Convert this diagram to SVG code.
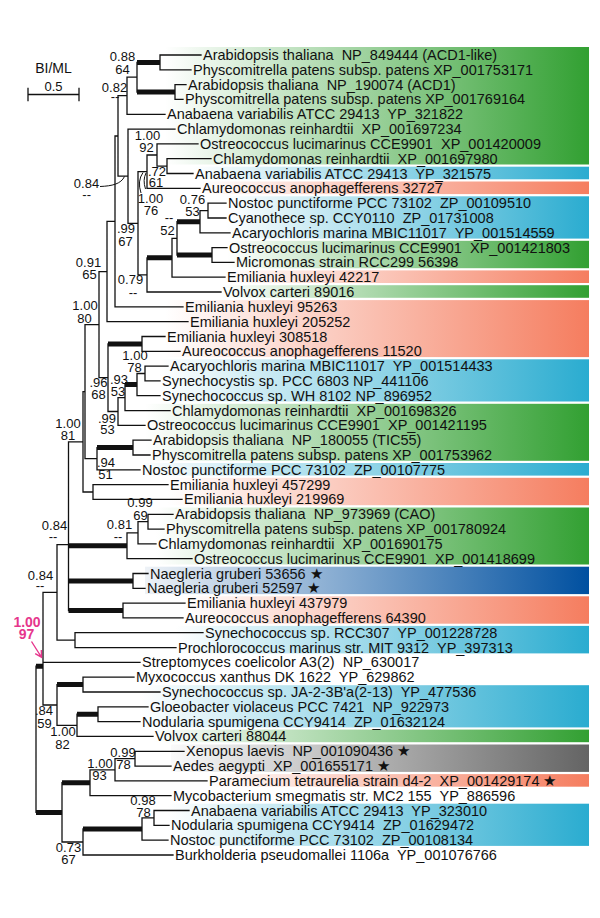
<svg xmlns="http://www.w3.org/2000/svg" width="600" height="918" viewBox="0 0 600 918">
<style>
.br{fill:none;stroke:#111;stroke-width:1.3;stroke-linecap:square}
.tk{fill:none;stroke:#111;stroke-width:5}
.ld{fill:none;stroke:#111;stroke-width:1}
.lf{font-family:"Liberation Sans",Arial,Helvetica,sans-serif;font-size:14.5px;fill:#111}
.sv{font-family:"Liberation Sans",Arial,Helvetica,sans-serif;font-size:13px;fill:#111;text-anchor:middle}
.pk{font-family:"Liberation Sans",Arial,Helvetica,sans-serif;font-size:14px;font-weight:bold;fill:#e6368c;text-anchor:middle}
.ttl{font-family:"Liberation Sans",Arial,Helvetica,sans-serif;font-size:14px;fill:#111;text-anchor:middle}
</style>
<defs>
<linearGradient id="gGreen" x1="0" y1="0" x2="1" y2="0"><stop offset="0" stop-color="#fff"/><stop offset="1" stop-color="#32a032"/></linearGradient>
<linearGradient id="gBlue" x1="0" y1="0" x2="1" y2="0"><stop offset="0" stop-color="#fff"/><stop offset="1" stop-color="#2aacd0"/></linearGradient>
<linearGradient id="gSalmon" x1="0" y1="0" x2="1" y2="0"><stop offset="0" stop-color="#fff"/><stop offset="1" stop-color="#f57d5f"/></linearGradient>
<linearGradient id="gNavy" x1="0" y1="0" x2="1" y2="0"><stop offset="0" stop-color="#eef2f7"/><stop offset="1" stop-color="#0050a0"/></linearGradient>
<linearGradient id="gGray" x1="0" y1="0" x2="1" y2="0"><stop offset="0" stop-color="#fafafa"/><stop offset="1" stop-color="#646464"/></linearGradient>
</defs>
<rect x="0" y="0" width="600" height="918" fill="#fff"/>
<g id="bands">
<rect x="165" y="47" width="424" height="117.5" fill="url(#gGreen)"/>
<rect x="193" y="166.7" width="396" height="12.6" fill="url(#gBlue)"/>
<rect x="200" y="181.5" width="389" height="12.6" fill="url(#gSalmon)"/>
<rect x="226" y="196.3" width="363" height="42.3" fill="url(#gBlue)"/>
<rect x="227" y="240.8" width="362" height="27.4" fill="url(#gGreen)"/>
<rect x="225" y="270.4" width="364" height="12.6" fill="url(#gSalmon)"/>
<rect x="221" y="285.2" width="368" height="12.6" fill="url(#gGreen)"/>
<rect x="165" y="300.1" width="424" height="57" fill="url(#gSalmon)"/>
<rect x="160" y="359.3" width="429" height="42.2" fill="url(#gBlue)"/>
<rect x="145" y="403.8" width="444" height="57" fill="url(#gGreen)"/>
<rect x="140" y="463" width="449" height="12.6" fill="url(#gBlue)"/>
<rect x="168" y="477.8" width="421" height="27.4" fill="url(#gSalmon)"/>
<rect x="156" y="507.5" width="433" height="57" fill="url(#gGreen)"/>
<rect x="145" y="566.7" width="444" height="27.4" fill="url(#gNavy)"/>
<rect x="183" y="596.3" width="406" height="27.4" fill="url(#gSalmon)"/>
<rect x="176" y="625.9" width="413" height="27.5" fill="url(#gBlue)"/>
<rect x="140" y="685.2" width="449" height="42.2" fill="url(#gBlue)"/>
<rect x="153" y="729.6" width="436" height="12.6" fill="url(#gGreen)"/>
<rect x="171" y="744.5" width="418" height="27.4" fill="url(#gGray)"/>
<rect x="207" y="774.1" width="382" height="12.6" fill="url(#gSalmon)"/>
<rect x="168" y="803.7" width="421" height="42.2" fill="url(#gBlue)"/>
</g>
<g id="connectors">
<path class="br" d="M160,55V69.8M160,55H201M160,69.8H191M175,84.6V99.4M175,84.6H186M175,99.4H183M137,62.4V92M127,77.2V114.3M127,77.2H137M127,114.3H165M118,95.7V176.2M118,95.7H127M118,176.2H128M128,129.1V223.3M128,129.1H175M128,223.3H138M138,171.7V274.9M138,171.7H147M138,274.9H147M147,155V188.3M147,155H157M147,188.3H200M157,143.9V166.1M157,143.9H198M157,166.1H167M167,158.7V173.5M167,158.7H211M167,173.5H193M147,257.8V292M147,292H221M172,238.4V277.2M172,238.4H177M172,277.2H225M177,221.7V255M200,210.6V232.8M200,210.6H208M200,232.8H230M208,203.1V218M208,203.1H226M208,218H226M212,247.6V262.4M212,247.6H227M212,262.4H234M115,136V306.9M115,136H118M115,306.9H183M107,221.4V321.7M107,221.4H115M107,321.7H188M99,271.6V377.7M99,271.6H107M99,377.7H108M108,343.9V411.5M108,411.5H118M142,336.5V351.3M142,336.5H165M142,351.3H180M118,397.6V425.4M118,397.6H125M118,425.4H145M125,384.6V410.6M125,410.6H170M137,373.5V395.7M137,373.5H145M137,395.7H160M145,366.1V380.9M145,366.1H168M145,380.9H160M85,324.7V458.7M85,324.7H99M85,458.7H97M97,447.6V469.8M97,469.8H140M133,440.2V455M133,440.2H151M133,455H150M83,391.7V492M83,391.7H85M83,492H93M93,484.6V499.4M93,484.6H168M93,499.4H182M68.5,441.8V610.5M68.5,441.8H83M127,532.8V558.7M127,532.8H138M127,558.7H192M138,521.7V543.9M138,521.7H148M138,543.9H156M148,514.3V529.1M148,514.3H173M148,529.1H164M133,573.5V588.3M133,573.5H148M133,588.3H145M123,603.1V617.9M123,603.1H185M123,617.9H183M57,544.7V640.2M57,544.7H68.5M57,640.2H75M75,632.7V647.6M75,632.7H203M75,647.6H176M43,592.4V705M43,592.4H57M43,662.4H140M43,705H57M57,684.6V725.3M57,725.3H77M83,677.2V692M83,677.2H134M83,692H160M77,714.2V736.4M77,736.4H153M98,706.8V721.6M98,706.8H148M98,721.6H140M36,666.2V812.4M62,782.7V842M62,842H83M90,769.8V795.7M90,769.8H115M90,795.7H171M115,758.7V780.9M115,758.7H135M115,780.9H207M135,751.3V766.1M135,751.3H184M135,766.1H171M83,829V855M83,855H173M142,817.9V840.1M142,817.9H154M142,840.1H168M154,810.5V825.3M154,810.5H189M154,825.3H169"/>
<path class="tk" d="M137,62.4H160M137,92H175M177,221.7H200M177,255H212M147,257.8H172M108,343.9H142M125,384.6H137M97,447.6H133M68.5,545.8H127M68.5,580.9H133M68.5,610.5H123M57,684.6H83M77,714.2H98M36,666.2H43M62,782.7H90M36,812.4H62M83,829H142"/>
<path class="ld" d="M100,186.5C112,186 121,184 124.5,176.5M141,193Q137,181 143,172.5M145.5,189Q142.5,180 146,173"/>
<path class="br" d="M28,94.5H79M28,88.5V100.5M79,88.5V100.5"/>
<path d="M31.5,641.5L41,656.5M35.2,653.6L41.5,657.2L41.3,650.1" fill="none" stroke="#e6368c" stroke-width="1.4"/>
</g>
<g id="scale">
<text class="ttl" x="53.5" y="73">BI/ML</text>
<text class="sv" x="53.5" y="90.5">0.5</text>
</g>
<g id="support">
<text class="sv"><tspan x="122.5" y="61">0.88</tspan><tspan x="122.5" y="74">64</tspan></text>
<text class="sv"><tspan x="114.5" y="92">0.82</tspan><tspan x="115" y="101">--</tspan></text>
<text class="sv"><tspan x="147.5" y="140">1.00</tspan><tspan x="146.5" y="152">92</tspan></text>
<text class="sv"><tspan x="86.5" y="187.5">0.84</tspan><tspan x="86.7" y="199">--</tspan></text>
<text class="sv"><tspan x="157" y="175.5">.72</tspan><tspan x="156" y="187">61</tspan></text>
<text class="sv"><tspan x="150.5" y="203">1.00</tspan><tspan x="151" y="214.5">76</tspan></text>
<text class="sv"><tspan x="192.5" y="204">0.76</tspan><tspan x="192.5" y="216">53</tspan></text>
<text class="sv"><tspan x="169" y="222">--</tspan><tspan x="167.5" y="235">52</tspan></text>
<text class="sv"><tspan x="126" y="233">.99</tspan><tspan x="125.5" y="246">67</tspan></text>
<text class="sv"><tspan x="130.5" y="284">0.79</tspan><tspan x="133" y="297">--</tspan></text>
<text class="sv"><tspan x="88.5" y="267">0.91</tspan><tspan x="89.5" y="279">65</tspan></text>
<text class="sv"><tspan x="85" y="310">1.00</tspan><tspan x="84.5" y="322.5">80</tspan></text>
<text class="sv"><tspan x="135" y="360">1.00</tspan><tspan x="134.5" y="372">78</tspan></text>
<text class="sv"><tspan x="98.5" y="387">.96</tspan><tspan x="98.5" y="399">68</tspan></text>
<text class="sv"><tspan x="119" y="384">.93</tspan><tspan x="118" y="396">53</tspan></text>
<text class="sv"><tspan x="107" y="422.5">.99</tspan><tspan x="107.5" y="434">53</tspan></text>
<text class="sv"><tspan x="68" y="428">1.00</tspan><tspan x="68" y="440">81</tspan></text>
<text class="sv"><tspan x="106" y="467">.94</tspan><tspan x="105.5" y="479">51</tspan></text>
<text class="sv"><tspan x="140" y="507">0.99</tspan><tspan x="140.5" y="520">69</tspan></text>
<text class="sv"><tspan x="119.5" y="529">0.81</tspan><tspan x="118" y="541">--</tspan></text>
<text class="sv"><tspan x="54.5" y="530">0.84</tspan><tspan x="53" y="541">--</tspan></text>
<text class="sv"><tspan x="40.5" y="580">0.84</tspan><tspan x="40" y="590">--</tspan></text>
<text class="pk"><tspan x="27" y="626.5">1.00</tspan><tspan x="26.5" y="639">97</tspan></text>
<text class="sv"><tspan x="44" y="715">.84</tspan><tspan x="44.5" y="728">59</tspan></text>
<text class="sv"><tspan x="63" y="736">1.00</tspan><tspan x="62.5" y="749">82</tspan></text>
<text class="sv"><tspan x="123" y="757">0.99</tspan><tspan x="123.5" y="769">78</tspan></text>
<text class="sv"><tspan x="100" y="768">1.00</tspan><tspan x="99.5" y="780">93</tspan></text>
<text class="sv"><tspan x="143" y="805">0.98</tspan><tspan x="143.5" y="817">78</tspan></text>
<text class="sv"><tspan x="68.5" y="852">0.73</tspan><tspan x="68.5" y="864">67</tspan></text>
</g>
<g id="leaf01"><text class="lf" xml:space="preserve" x="203" y="60">Arabidopsis thaliana  NP_849444 (ACD1-like)</text></g>
<g id="leaf02"><text class="lf" xml:space="preserve" x="193" y="74.8">Physcomitrella patens subsp. patens XP_001753171</text></g>
<g id="leaf03"><text class="lf" xml:space="preserve" x="188" y="89.6">Arabidopsis thaliana  NP_190074 (ACD1)</text></g>
<g id="leaf04"><text class="lf" xml:space="preserve" x="185" y="104.4">Physcomitrella patens subsp. patens XP_001769164</text></g>
<g id="leaf05"><text class="lf" xml:space="preserve" x="167" y="119.3">Anabaena variabilis ATCC 29413  YP_321822</text></g>
<g id="leaf06"><text class="lf" xml:space="preserve" x="177" y="134.1">Chlamydomonas reinhardtii  XP_001697234</text></g>
<g id="leaf07"><text class="lf" xml:space="preserve" x="200" y="148.9">Ostreococcus lucimarinus CCE9901  XP_001420009</text></g>
<g id="leaf08"><text class="lf" xml:space="preserve" x="213" y="163.7">Chlamydomonas reinhardtii  XP_001697980</text></g>
<g id="leaf09"><text class="lf" xml:space="preserve" x="195" y="178.5">Anabaena variabilis ATCC 29413  YP_321575</text></g>
<g id="leaf10"><text class="lf" xml:space="preserve" x="202" y="193.3">Aureococcus anophagefferens 32727</text></g>
<g id="leaf11"><text class="lf" xml:space="preserve" x="228" y="208.1">Nostoc punctiforme PCC 73102  ZP_00109510</text></g>
<g id="leaf12"><text class="lf" xml:space="preserve" x="228" y="223">Cyanothece sp. CCY0110  ZP_01731008</text></g>
<g id="leaf13"><text class="lf" xml:space="preserve" x="232" y="237.8">Acaryochloris marina MBIC11017  YP_001514559</text></g>
<g id="leaf14"><text class="lf" xml:space="preserve" x="229" y="252.6">Ostreococcus lucimarinus CCE9901  XP_001421803</text></g>
<g id="leaf15"><text class="lf" xml:space="preserve" x="236" y="267.4">Micromonas strain RCC299 56398</text></g>
<g id="leaf16"><text class="lf" xml:space="preserve" x="227" y="282.2">Emiliania huxleyi 42217</text></g>
<g id="leaf17"><text class="lf" xml:space="preserve" x="223" y="297">Volvox carteri 89016</text></g>
<g id="leaf18"><text class="lf" xml:space="preserve" x="185" y="311.9">Emiliania huxleyi 95263</text></g>
<g id="leaf19"><text class="lf" xml:space="preserve" x="190" y="326.7">Emiliania huxleyi 205252</text></g>
<g id="leaf20"><text class="lf" xml:space="preserve" x="167" y="341.5">Emiliania huxleyi 308518</text></g>
<g id="leaf21"><text class="lf" xml:space="preserve" x="182" y="356.3">Aureococcus anophagefferens 11520</text></g>
<g id="leaf22"><text class="lf" xml:space="preserve" x="170" y="371.1">Acaryochloris marina MBIC11017  YP_001514433</text></g>
<g id="leaf23"><text class="lf" xml:space="preserve" x="162" y="385.9">Synechocystis sp. PCC 6803 NP_441106</text></g>
<g id="leaf24"><text class="lf" xml:space="preserve" x="162" y="400.7">Synechococcus sp. WH 8102 NP_896952</text></g>
<g id="leaf25"><text class="lf" xml:space="preserve" x="172" y="415.6">Chlamydomonas reinhardtii  XP_001698326</text></g>
<g id="leaf26"><text class="lf" xml:space="preserve" x="147" y="430.4">Ostreococcus lucimarinus CCE9901  XP_001421195</text></g>
<g id="leaf27"><text class="lf" xml:space="preserve" x="153" y="445.2">Arabidopsis thaliana  NP_180055 (TIC55)</text></g>
<g id="leaf28"><text class="lf" xml:space="preserve" x="152" y="460">Physcomitrella patens subsp. patens XP_001753962</text></g>
<g id="leaf29"><text class="lf" xml:space="preserve" x="142" y="474.8">Nostoc punctiforme PCC 73102  ZP_00107775</text></g>
<g id="leaf30"><text class="lf" xml:space="preserve" x="170" y="489.6">Emiliania huxleyi 457299</text></g>
<g id="leaf31"><text class="lf" xml:space="preserve" x="184" y="504.4">Emiliania huxleyi 219969</text></g>
<g id="leaf32"><text class="lf" xml:space="preserve" x="175" y="519.3">Arabidopsis thaliana  NP_973969 (CAO)</text></g>
<g id="leaf33"><text class="lf" xml:space="preserve" x="166" y="534.1">Physcomitrella patens subsp. patens XP_001780924</text></g>
<g id="leaf34"><text class="lf" xml:space="preserve" x="158" y="548.9">Chlamydomonas reinhardtii  XP_001690175</text></g>
<g id="leaf35"><text class="lf" xml:space="preserve" x="194" y="563.7">Ostreococcus lucimarinus CCE9901  XP_001418699</text></g>
<g id="leaf36"><text class="lf" xml:space="preserve" x="150" y="578.5">Naegleria gruberi 53656 ★</text></g>
<g id="leaf37"><text class="lf" xml:space="preserve" x="147" y="593.3">Naegleria gruberi 52597 ★</text></g>
<g id="leaf38"><text class="lf" xml:space="preserve" x="187" y="608.1">Emiliania huxleyi 437979</text></g>
<g id="leaf39"><text class="lf" xml:space="preserve" x="185" y="622.9">Aureococcus anophagefferens 64390</text></g>
<g id="leaf40"><text class="lf" xml:space="preserve" x="205" y="637.7">Synechococcus sp. RCC307  YP_001228728</text></g>
<g id="leaf41"><text class="lf" xml:space="preserve" x="178" y="652.6">Prochlorococcus marinus str. MIT 9312  YP_397313</text></g>
<g id="leaf42"><text class="lf" xml:space="preserve" x="142" y="667.4">Streptomyces coelicolor A3(2)  NP_630017</text></g>
<g id="leaf43"><text class="lf" xml:space="preserve" x="136" y="682.2">Myxococcus xanthus DK 1622  YP_629862</text></g>
<g id="leaf44"><text class="lf" xml:space="preserve" x="162" y="697">Synechococcus sp. JA-2-3B'a(2-13)  YP_477536</text></g>
<g id="leaf45"><text class="lf" xml:space="preserve" x="150" y="711.8">Gloeobacter violaceus PCC 7421  NP_922973</text></g>
<g id="leaf46"><text class="lf" xml:space="preserve" x="142" y="726.6">Nodularia spumigena CCY9414  ZP_01632124</text></g>
<g id="leaf47"><text class="lf" xml:space="preserve" x="155" y="741.4">Volvox carteri 88044</text></g>
<g id="leaf48"><text class="lf" xml:space="preserve" x="186" y="756.3">Xenopus laevis  NP_001090436 ★</text></g>
<g id="leaf49"><text class="lf" xml:space="preserve" x="173" y="771.1">Aedes aegypti  XP_001655171 ★</text></g>
<g id="leaf50"><text class="lf" xml:space="preserve" x="209" y="785.9">Paramecium tetraurelia strain d4-2  XP_001429174 ★</text></g>
<g id="leaf51"><text class="lf" xml:space="preserve" x="173" y="800.7">Mycobacterium smegmatis str. MC2 155  YP_886596</text></g>
<g id="leaf52"><text class="lf" xml:space="preserve" x="191" y="815.5">Anabaena variabilis ATCC 29413  YP_323010</text></g>
<g id="leaf53"><text class="lf" xml:space="preserve" x="171" y="830.3">Nodularia spumigena CCY9414  ZP_01629472</text></g>
<g id="leaf54"><text class="lf" xml:space="preserve" x="170" y="845.1">Nostoc punctiforme PCC 73102  ZP_00108134</text></g>
<g id="leaf55"><text class="lf" xml:space="preserve" x="175" y="860">Burkholderia pseudomallei 1106a  YP_001076766</text></g>
</svg>
